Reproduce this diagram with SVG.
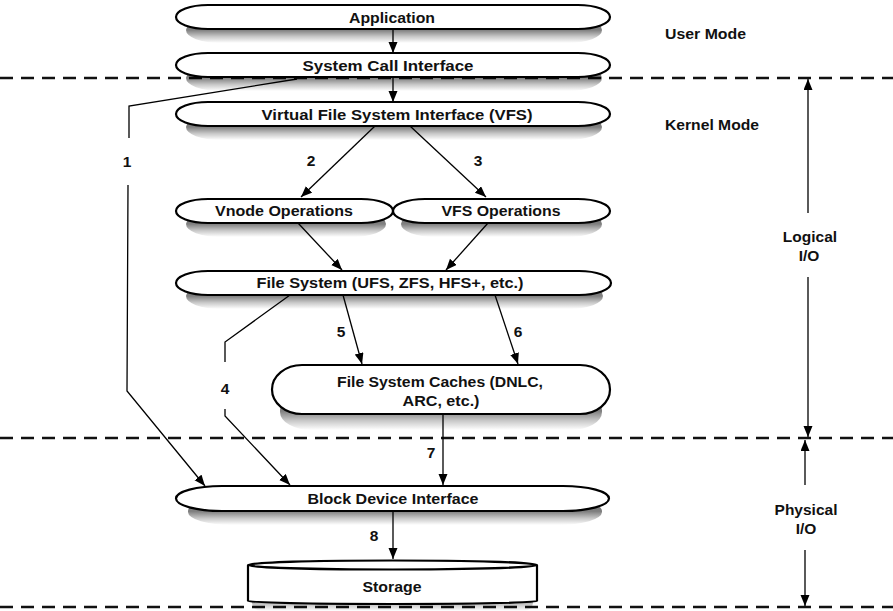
<svg xmlns="http://www.w3.org/2000/svg" width="893" height="611" viewBox="0 0 893 611">
  <style>
    .node { fill: #fff; stroke: #000; stroke-width: 2.2; }
    .shade { fill: url(#shadeGrad); }
    .edge { fill: none; stroke: #000; stroke-width: 1.3; }
    .arrow { marker-end: url(#head); }
    .divider { stroke: #111; stroke-width: 2.6; stroke-dasharray: 13 8; }
    text { font-family: "Liberation Sans", Arial, Helvetica, sans-serif; font-weight: bold; font-size: 15.5px; fill: #111; }
    .c { text-anchor: middle; }
  </style>
  <defs>
    <!-- vertical fade used for the shadow under each node -->
    <linearGradient id="shadeGrad" x1="0" y1="0" x2="0" y2="1">
      <stop offset="0" stop-color="#000" stop-opacity="0.6"/>
      <stop offset="0.5" stop-color="#000" stop-opacity="0.5"/>
      <stop offset="0.75" stop-color="#000" stop-opacity="0.22"/>
      <stop offset="1" stop-color="#000" stop-opacity="0"/>
    </linearGradient>
    <marker id="head" markerUnits="userSpaceOnUse" markerWidth="12" markerHeight="10" refX="11" refY="4.5" orient="auto">
      <path d="M0,0 L11,4.5 L0,9 Z" fill="#000"/>
    </marker>
  </defs>

  <!-- mode boundaries -->
  <g id="dividers">
    <line class="divider" x1="0" y1="78" x2="893" y2="78"/>
    <line class="divider" x1="0" y1="438" x2="893" y2="438"/>
    <line class="divider" x1="0" y1="607" x2="893" y2="607"/>
  </g>

  <g id="application">
    <rect class="shade" x="186" y="17" width="416" height="26" rx="34" ry="13"/>
    <path class="node" d="M208,5 H578 A32,12 0 0 1 578,29 H208 A32,12 0 0 1 208,5 Z"/>
    <text class="c" x="392" y="23" textLength="86" lengthAdjust="spacingAndGlyphs">Application</text>
  </g>
  <g id="syscall">
    <rect class="shade" x="186" y="65" width="416" height="26" rx="34" ry="13"/>
    <path class="node" d="M208,53 H578 A32,12 0 0 1 578,77 H208 A32,12 0 0 1 208,53 Z"/>
    <text class="c" x="388" y="71" textLength="171" lengthAdjust="spacingAndGlyphs">System Call Interface</text>
  </g>
  <g id="vfs">
    <rect class="shade" x="186" y="114" width="416" height="26" rx="34" ry="13"/>
    <path class="node" d="M208,102 H578 A32,12 0 0 1 578,126 H208 A32,12 0 0 1 208,102 Z"/>
    <text class="c" x="397" y="120" textLength="271" lengthAdjust="spacingAndGlyphs">Virtual File System Interface (VFS)</text>
  </g>
  <g id="vnode-ops">
    <rect class="shade" x="186" y="211" width="200" height="26" rx="34" ry="13"/>
    <path class="node" d="M208,199 H361 A32,12 0 0 1 361,223 H208 A32,12 0 0 1 208,199 Z"/>
    <text class="c" x="284" y="216" textLength="138" lengthAdjust="spacingAndGlyphs">Vnode Operations</text>
  </g>
  <g id="vfs-ops">
    <rect class="shade" x="401" y="211" width="201" height="26" rx="34" ry="13"/>
    <path class="node" d="M425,199 H578 A32,12 0 0 1 578,223 H425 A32,12 0 0 1 425,199 Z"/>
    <text class="c" x="501" y="216" textLength="119" lengthAdjust="spacingAndGlyphs">VFS Operations</text>
  </g>
  <g id="filesystem">
    <rect class="shade" x="186" y="283" width="417" height="26" rx="34" ry="13"/>
    <path class="node" d="M208,271 H579 A32,12 0 0 1 579,295 H208 A32,12 0 0 1 208,271 Z"/>
    <text class="c" x="390" y="288" textLength="267" lengthAdjust="spacingAndGlyphs">File System (UFS, ZFS, HFS+, etc.)</text>
  </g>
  <g id="fs-caches">
    <rect class="shade" x="280" y="392" width="322" height="38" rx="32" ry="18"/>
    <path class="node" d="M302,365 H580 A30,24.5 0 0 1 580,414 H302 A30,24.5 0 0 1 302,365 Z"/>
    <text class="c" x="440" y="387" textLength="206" lengthAdjust="spacingAndGlyphs">File System Caches (DNLC,</text>
    <text class="c" x="441" y="406" textLength="77" lengthAdjust="spacingAndGlyphs">ARC, etc.)</text>
  </g>
  <g id="block-device">
    <rect class="shade" x="188" y="498" width="414" height="27" rx="44" ry="13"/>
    <path class="node" d="M222,486 H563 A46,12.5 0 0 1 563,511 H222 A46,12.5 0 0 1 222,486 Z"/>
    <text class="c" x="393" y="504" textLength="171" lengthAdjust="spacingAndGlyphs">Block Device Interface</text>
  </g>
  <g id="storage">
    <rect class="shade" x="252" y="585" width="281" height="26" rx="10" ry="8"/>
    <path class="node" d="M248,565 A144.5,4.5 0 0 1 537,565 V601 A144.5,3 0 0 1 248,601 Z"/>
    <path d="M248,565 A144.5,4.5 0 0 0 537,565" fill="none" stroke="#000" stroke-width="2.2"/>
    <text class="c" x="392" y="592" textLength="59" lengthAdjust="spacingAndGlyphs">Storage</text>
  </g>

  <g id="connectors">
    <line class="edge arrow" x1="393" y1="29" x2="393" y2="53"/>
    <line class="edge arrow" x1="393" y1="78" x2="393" y2="102"/>
    <line class="edge arrow" x1="375" y1="126" x2="301" y2="197"/>
    <line class="edge arrow" x1="410" y1="126" x2="486" y2="197"/>
    <line class="edge arrow" x1="298" y1="223" x2="342" y2="270"/>
    <line class="edge arrow" x1="488" y1="223" x2="446" y2="270"/>
    <line class="edge arrow" x1="343" y1="295" x2="362" y2="364"/>
    <line class="edge arrow" x1="495" y1="295" x2="518" y2="364"/>
    <line class="edge arrow" x1="443" y1="414" x2="443" y2="485"/>
    <line class="edge arrow" x1="393" y1="511" x2="393" y2="559"/>
    <!-- path 1: syscall straight to block device -->
    <polyline class="edge" points="297,79 129,106 129,138"/>
    <polyline class="edge arrow" points="128,185 127,391 205,486"/>
    <!-- path 4: file system to block device -->
    <polyline class="edge" points="290,295 225,342 225,362"/>
    <polyline class="edge arrow" points="225,409 225,416 290,485"/>
    <!-- logical / physical extents -->
    <line class="edge arrow" x1="808" y1="213" x2="808" y2="79"/>
    <line class="edge arrow" x1="808" y1="277" x2="808" y2="437"/>
    <line class="edge arrow" x1="805" y1="485" x2="805" y2="440"/>
    <line class="edge arrow" x1="805" y1="550" x2="805" y2="606"/>
  </g>

  <g id="labels">
    <text class="c" x="127" y="167">1</text>
    <text class="c" x="311" y="166">2</text>
    <text class="c" x="478" y="166">3</text>
    <text class="c" x="225" y="394">4</text>
    <text class="c" x="341" y="337">5</text>
    <text class="c" x="518" y="337">6</text>
    <text class="c" x="431" y="458">7</text>
    <text class="c" x="374" y="541">8</text>
    <text x="665" y="39" textLength="81" lengthAdjust="spacingAndGlyphs">User Mode</text>
    <text x="665" y="130" textLength="94" lengthAdjust="spacingAndGlyphs">Kernel Mode</text>
    <text class="c" x="810" y="242">Logical</text>
    <text class="c" x="809" y="261">I/O</text>
    <text class="c" x="806" y="515">Physical</text>
    <text class="c" x="806" y="534">I/O</text>
  </g>
</svg>
